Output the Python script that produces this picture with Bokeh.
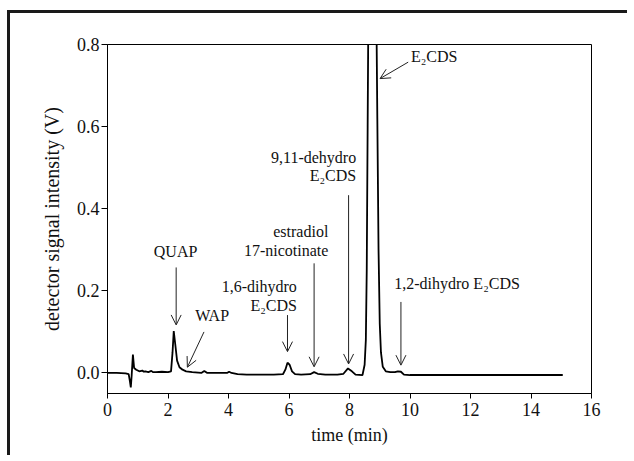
from bokeh.plotting import figure
from bokeh.models import (Range1d, FixedTicker, PrintfTickFormatter, ColumnDataSource,
                          Arrow, OpenHead)
from bokeh.core.properties import value
from bokeh.embed import file_html
from bokeh.resources import INLINE

# ---- chromatogram (time in min, signal in V) ----
time = [0.0, 0.3, 0.6, 0.70, 0.74, 0.77, 0.80, 0.84, 0.88, 0.95, 1.05, 1.15, 1.2, 1.25,
        1.35, 1.45, 1.5, 1.6, 1.8, 2.0, 2.1, 2.15, 2.19, 2.24, 2.3, 2.38, 2.48, 2.6,
        2.8, 3.1, 3.2, 3.3, 3.6, 3.95, 4.02, 4.1, 4.3, 4.6, 5.0, 5.5, 5.8, 5.88, 5.95,
        6.02, 6.1, 6.2, 6.4, 6.7, 6.83, 6.95, 7.2, 7.6, 7.8, 7.95, 8.08, 8.2, 8.43,
        8.50, 8.54, 8.57, 8.60, 8.63, 8.70, 8.76, 8.82, 8.88, 8.92, 8.96, 9.0, 9.04,
        9.1, 9.2, 9.35, 9.5, 9.6, 9.7, 9.8, 10.0, 12.0, 15.05]
signal = [0.0, 0.0, -0.001, -0.003, -0.02, -0.035, -0.005, 0.045, 0.012, 0.008, 0.004,
          0.006, 0.003, 0.004, 0.002, 0.005, 0.002, 0.002, 0.003, 0.002, 0.004, 0.05,
          0.102, 0.07, 0.03, 0.014, 0.008, 0.004, 0.002, 0.0, 0.005, 0.0, 0.0, 0.0,
          0.003, 0.0, -0.003, -0.004, -0.004, -0.004, -0.003, 0.008, 0.025, 0.02,
          0.004, -0.003, -0.004, -0.003, 0.002, -0.002, -0.004, -0.004, -0.002, 0.011,
          0.004, -0.004, -0.005, 0.02, 0.08, 0.25, 0.6, 0.95, 1.5, 1.65, 1.5, 0.95,
          0.62, 0.3, 0.12, 0.05, 0.015, 0.004, 0.002, 0.002, 0.004, 0.003, -0.004,
          -0.005, -0.005, -0.005]

x_ticks = [0, 2, 4, 6, 8, 10, 12, 14, 16]
y_ticks = [0.0, 0.2, 0.4, 0.6, 0.8]

# ---- peak labels ----
label_x = [2.25, 3.46, 6.26, 6.26, 7.30, 7.30, 8.22, 8.22, 9.48, 10.03]
label_y = [0.295, 0.139, 0.210, 0.165, 0.344, 0.298, 0.526, 0.482, 0.218, 0.770]
label_text = ["QUAP", "WAP", "1,6-dihydro", "E\u2082CDS", "estradiol", "17-nicotinate",
              "9,11-dehydro", "E\u2082CDS", "1,2-dihydro E\u2082CDS", "E\u2082CDS"]
label_align = ["center", "center", "right", "right", "right", "right",
               "right", "right", "left", "left"]

# ---- arrows (start -> tip) ----
arrow_x0 = [2.27, 3.19, 5.95, 6.83, 7.97, 9.70, 9.94]
arrow_y0 = [0.257, 0.100, 0.141, 0.267, 0.433, 0.173, 0.757]
arrow_x1 = [2.27, 2.64, 5.95, 6.83, 7.97, 9.70, 9.01]
arrow_y1 = [0.117, 0.014, 0.052, 0.015, 0.022, 0.019, 0.717]

FONT = "Liberation Serif"
INK = "#111111"

p = figure(width=620, height=445, output_backend="svg", toolbar_location=None,
           x_range=Range1d(0, 16), y_range=Range1d(-0.05, 0.8),
           min_border_left=97, min_border_right=39, min_border_top=31,
           min_border_bottom=65)
p.styles = {"border-left": "3px solid #1a1a1a", "border-top": "3px solid #1a1a1a",
            "margin-top": "10px", "margin-left": "7px"}

p.line(time, signal, line_color="black", line_width=1.8)

src = ColumnDataSource(dict(x=label_x, y=label_y, text=label_text, align=label_align))
p.text(x="x", y="y", text="text", text_align="align", source=src,
       text_baseline="middle", text_font=value(FONT), text_font_size="16px",
       text_color=INK)

asrc = ColumnDataSource(dict(x0=arrow_x0, y0=arrow_y0, x1=arrow_x1, y1=arrow_y1))
p.add_layout(Arrow(x_start="x0", y_start="y0", x_end="x1", y_end="y1", source=asrc,
                   line_color="#222222", line_width=1,
                   end=OpenHead(size=10, line_color="#222222", line_width=1)))

p.xgrid.visible = False
p.ygrid.visible = False
p.outline_line_color = "black"
p.outline_line_width = 1
p.background_fill_color = "white"
p.border_fill_color = "white"

for ax in (p.xaxis[0], p.yaxis[0]):
    ax.axis_line_color = "black"
    ax.major_tick_line_color = "black"
    ax.minor_tick_line_color = None
    ax.major_tick_in = 0
    ax.major_tick_out = 6
    ax.major_label_text_font = FONT
    ax.major_label_text_font_size = "18px"
    ax.major_label_text_color = INK
    ax.axis_label_text_font = FONT
    ax.axis_label_text_font_size = "18px"
    ax.axis_label_text_font_style = "normal"
    ax.axis_label_text_color = INK

p.yaxis.axis_label_text_font_size = "20px"
p.xaxis.ticker = FixedTicker(ticks=x_ticks)
p.yaxis.ticker = FixedTicker(ticks=y_ticks)
p.yaxis.formatter = PrintfTickFormatter(format="%.1f")
p.xaxis.formatter = PrintfTickFormatter(format="%d")
p.xaxis.major_tick_out = 5
p.xaxis.major_label_standoff = 4
p.yaxis.major_label_standoff = 2
p.xaxis.axis_label = "time (min)"
p.yaxis.axis_label = "detector signal intensity (V)"
p.xaxis.axis_label_standoff = 6
p.yaxis.axis_label_standoff = 11

open("out.html", "w").write(file_html(p, INLINE))
